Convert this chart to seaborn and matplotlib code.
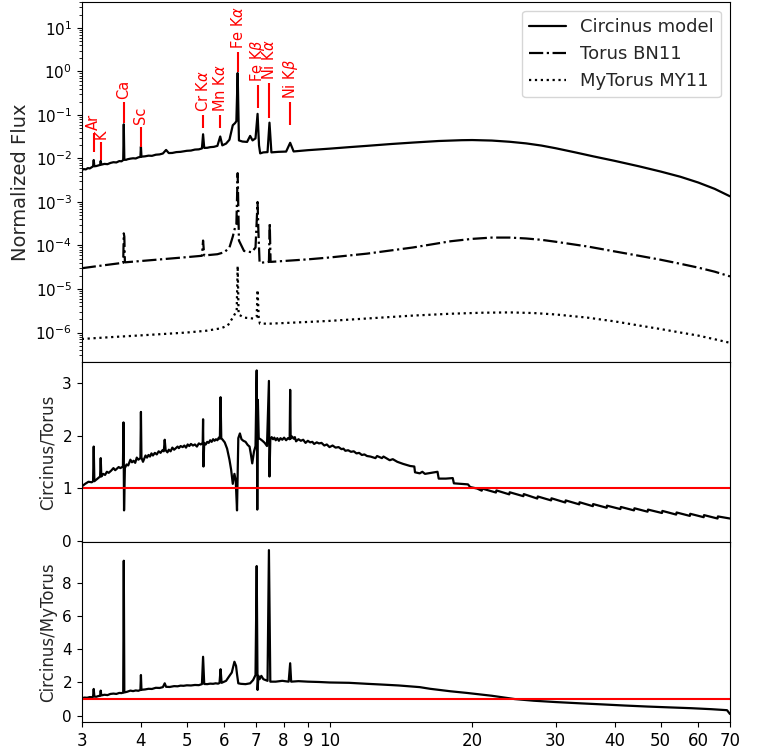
import matplotlib
matplotlib.use("Agg")
import matplotlib.pyplot as plt
import seaborn as sns
from matplotlib.ticker import NullLocator, FixedLocator, FixedFormatter, LogLocator

# ---------------- data (energy in keV) ----------------
circ_E = [3.00, 3.03, 3.06, 3.09, 3.12, 3.15, 3.17, 3.18, 3.19, 3.22,
          3.25, 3.28, 3.29, 3.30, 3.35, 3.40, 3.45, 3.50, 3.55, 3.60,
          3.64, 3.67, 3.68, 3.69, 3.72, 3.75, 3.80, 3.85, 3.90, 3.95,
          3.99, 4.00, 4.01, 4.08, 4.15, 4.22, 4.30, 4.38, 4.45, 4.52,
          4.58, 4.66, 4.75, 4.85, 5.00, 5.10, 5.20, 5.30, 5.38, 5.41,
          5.44, 5.52, 5.60, 5.70, 5.80, 5.88, 5.94, 6.05, 6.15, 6.25,
          6.32, 6.36, 6.40, 6.44, 6.55, 6.70, 6.80, 6.88, 6.98, 7.05,
          7.10, 7.14, 7.25, 7.40, 7.47, 7.54, 7.80, 8.10, 8.26, 8.40,
          9.0, 10.0, 11.0, 12.0, 13.5, 15.0, 17.0, 19.0, 20.0, 22.0,
          24.0, 26.0, 28.0, 30.0, 33.0, 36.0, 40.0, 45.0, 50.0, 55.0,
          60.0, 65.0, 70.0]
circ_F = [5.4e-3, 5.7e-3, 5.6e-3, 6.0e-3, 5.9e-3, 6.3e-3, 6.6e-3, 9.2e-3, 6.6e-3, 6.7e-3,
          6.9e-3, 7.1e-3, 8.8e-3, 7.2e-3, 7.5e-3, 7.4e-3, 7.9e-3, 8.2e-3, 8.1e-3, 8.7e-3,
          8.6e-3, 9.2e-3, 6.1e-2, 9.4e-3, 9.3e-3, 9.6e-3, 9.9e-3, 1.01e-2, 1.0e-2, 1.06e-2,
          1.09e-2, 1.87e-2, 1.10e-2, 1.12e-2, 1.16e-2, 1.15e-2, 1.22e-2, 1.24e-2, 1.30e-2, 1.57e-2,
          1.33e-2, 1.34e-2, 1.40e-2, 1.42e-2, 1.50e-2, 1.52e-2, 1.60e-2, 1.62e-2, 1.70e-2, 3.6e-2,
          1.75e-2, 1.76e-2, 1.82e-2, 1.85e-2, 1.95e-2, 3.2e-2, 2.0e-2, 2.2e-2, 2.7e-2, 5.8e-2,
          6.5e-2, 7.2e-2, 0.92, 2.6e-2, 2.45e-2, 2.4e-2, 3.3e-2, 2.6e-2, 2.9e-2, 0.106,
          2.0e-2, 1.31e-2, 1.38e-2, 1.40e-2, 6.65e-2, 1.38e-2, 1.42e-2, 1.44e-2, 2.29e-2, 1.45e-2,
          1.55e-2, 1.68e-2, 1.82e-2, 1.95e-2, 2.15e-2, 2.32e-2, 2.52e-2, 2.63e-2, 2.65e-2, 2.58e-2,
          2.42e-2, 2.22e-2, 1.98e-2, 1.72e-2, 1.38e-2, 1.12e-2, 8.8e-3, 6.6e-3, 5.0e-3, 3.8e-3,
          2.8e-3, 2.0e-3, 1.35e-3]

torus_E = [3.00, 3.20, 3.40, 3.60, 3.67, 3.68, 3.69, 3.70, 4.00, 4.50,
           5.00, 5.38, 5.41, 5.44, 5.80, 6.00, 6.15, 6.25, 6.32, 6.36,
           6.40, 6.44, 6.60, 6.85, 6.98, 7.05, 7.08, 7.12, 7.30, 7.45,
           7.48, 7.51, 8.0, 9.0, 10.0, 12.0, 15.0, 18.0, 20.0, 22.0,
           24.0, 26.0, 28.0, 30.0, 35.0, 40.0, 45.0, 50.0, 55.0, 60.0,
           65.0, 70.0]
torus_F = [3.0e-5, 3.3e-5, 3.6e-5, 3.9e-5, 4.0e-5, 1.9e-4, 1.6e-4, 4.1e-5, 4.4e-5, 4.9e-5,
           5.4e-5, 5.8e-5, 1.3e-4, 5.9e-5, 6.3e-5, 7.0e-5, 9.0e-5, 1.6e-4, 2.6e-4, 3.0e-4,
           4.6e-3, 1.3e-4, 7.5e-5, 7.0e-5, 9.0e-5, 1.0e-3, 2.0e-4, 4.0e-5, 4.1e-5, 4.2e-5,
           3.3e-4, 4.2e-5, 4.4e-5, 4.8e-5, 5.3e-5, 6.5e-5, 9.0e-5, 1.25e-4, 1.42e-4, 1.52e-4,
           1.52e-4, 1.45e-4, 1.35e-4, 1.22e-4, 9.5e-5, 7.3e-5, 5.8e-5, 4.7e-5, 3.8e-5, 3.1e-5,
           2.5e-5, 1.95e-5]

mytorus_E = [3.0, 3.5, 4.0, 4.5, 5.0, 5.5, 5.9, 6.1, 6.25, 6.33,
             6.37, 6.40, 6.43, 6.6, 6.9, 7.02, 7.05, 7.09, 7.13, 7.5,
             8.0, 9.0, 10.0, 12.0, 15.0, 18.0, 21.0, 24.0, 27.0, 30.0,
             35.0, 40.0, 45.0, 50.0, 55.0, 60.0, 65.0, 70.0]
mytorus_F = [7.1e-7, 7.9e-7, 8.6e-7, 9.3e-7, 1.0e-6, 1.1e-6, 1.25e-6, 1.45e-6, 2.2e-6, 2.8e-6,
             3.2e-6, 3.4e-5, 2.6e-6, 2.2e-6, 2.1e-6, 2.3e-6, 9.5e-6, 2.2e-6, 1.6e-6, 1.6e-6,
             1.65e-6, 1.75e-6, 1.85e-6, 2.1e-6, 2.45e-6, 2.7e-6, 2.85e-6, 2.9e-6, 2.8e-6, 2.6e-6,
             2.2e-6, 1.8e-6, 1.45e-6, 1.2e-6, 1.0e-6, 8.5e-7, 7.0e-7, 5.8e-7]

ratio_torus_E = [3.00, 3.05, 3.10, 3.15, 3.17, 3.18, 3.19, 3.24, 3.28, 3.29,
                 3.30, 3.33, 3.36, 3.39, 3.42, 3.46, 3.50, 3.53, 3.56, 3.59,
                 3.62, 3.665, 3.675, 3.685, 3.70, 3.73, 3.76, 3.80, 3.83, 3.86,
                 3.89, 3.92, 3.95, 3.99, 4.00, 4.01, 4.04, 4.06, 4.09, 4.12,
                 4.15, 4.18, 4.21, 4.24, 4.28, 4.32, 4.36, 4.40, 4.44, 4.47,
                 4.49, 4.51, 4.55, 4.58, 4.62, 4.66, 4.70, 4.74, 4.78, 4.81,
                 4.85, 4.90, 4.94, 4.98, 5.02, 5.06, 5.10, 5.15, 5.20, 5.25,
                 5.30, 5.35, 5.40, 5.41, 5.42, 5.44, 5.48, 5.52, 5.56, 5.60,
                 5.64, 5.68, 5.72, 5.76, 5.80, 5.84, 5.87, 5.89, 5.91, 5.95,
                 6.01, 6.08, 6.15, 6.20, 6.25, 6.30, 6.34, 6.38, 6.42, 6.47,
                 6.52, 6.58, 6.65, 6.72, 6.78, 6.82, 6.87, 6.93, 6.98, 7.02,
                 7.04, 7.06, 7.09, 7.15, 7.22, 7.30, 7.38, 7.45, 7.47, 7.50,
                 7.55, 7.60, 7.65, 7.70, 7.76, 7.82, 7.88, 7.95, 8.02, 8.10,
                 8.17, 8.24, 8.26, 8.28, 8.34, 8.40, 8.45, 8.50, 8.60, 8.70,
                 8.80, 8.90, 9.00, 9.10, 9.20, 9.28, 9.40, 9.50, 9.62, 9.75,
                 9.87, 10.0, 10.15, 10.3, 10.45, 10.6, 10.7, 10.8, 10.95, 11.1,
                 11.25, 11.4, 11.55, 11.7, 11.85, 12.0, 12.2, 12.5, 12.6, 12.9,
                 13.0, 13.4, 13.6, 13.9, 14.2, 14.3, 14.8, 15.1, 15.15, 15.5,
                 15.7, 15.9, 16.4, 16.9, 17.0, 17.6, 18.2, 18.3, 19.0, 19.6,
                 19.8, 20.5, 20.95, 21.0, 22.45, 22.5, 23.95, 24.0, 25.65, 25.7,
                 27.45, 27.5, 29.35, 29.4, 31.45, 31.5, 33.65, 33.7, 35.95, 36.0,
                 38.45, 38.5, 41.1, 41.2, 43.9, 44.0, 46.9, 47.0, 50.3, 50.4,
                 53.9, 54.0, 57.6, 57.7, 61.6, 61.7, 65.9, 66.0, 70.0]
ratio_torus_V = [1.03, 1.08, 1.12, 1.11, 1.13, 1.79, 1.13, 1.18, 1.22, 1.57,
                 1.22, 1.27, 1.25, 1.31, 1.29, 1.33, 1.38, 1.34, 1.37, 1.40,
                 1.38, 1.41, 2.25, 0.575, 1.38, 1.45, 1.43, 1.54, 1.49, 1.52,
                 1.48, 1.58, 1.54, 1.57, 2.45, 1.58, 1.50, 1.55, 1.62, 1.58,
                 1.63, 1.60, 1.66, 1.62, 1.67, 1.64, 1.70, 1.67, 1.72, 1.70,
                 1.92, 1.72, 1.68, 1.73, 1.70, 1.77, 1.73, 1.76, 1.79, 1.76,
                 1.80, 1.78, 1.81, 1.77, 1.83, 1.80, 1.84, 1.81, 1.83, 1.79,
                 1.85, 1.83, 1.86, 2.31, 1.41, 1.86, 1.83, 1.88, 1.86, 1.91,
                 1.88, 1.93, 1.90, 1.93, 1.91, 1.96, 1.94, 2.73, 1.95, 1.92,
                 1.87, 1.75, 1.54, 1.35, 1.08, 1.27, 1.15, 0.575, 1.95, 2.04,
                 1.93, 1.90, 1.88, 1.82, 1.79, 1.66, 1.47, 1.70, 1.80, 3.24,
                 0.59, 2.68, 1.95, 1.93, 1.90, 1.86, 1.80, 3.04, 1.22, 1.92,
                 1.97, 1.93, 1.96, 1.91, 1.95, 1.90, 1.95, 1.92, 1.96, 1.91,
                 1.95, 1.93, 2.87, 1.94, 1.98, 1.94, 1.97, 1.89, 1.93, 1.90,
                 1.92, 1.86, 1.90, 1.87, 1.88, 1.84, 1.87, 1.85, 1.86, 1.81,
                 1.83, 1.78, 1.81, 1.77, 1.78, 1.74, 1.75, 1.71, 1.72, 1.69,
                 1.70, 1.66, 1.67, 1.63, 1.64, 1.61, 1.60, 1.57, 1.61, 1.57,
                 1.60, 1.53, 1.55, 1.50, 1.47, 1.46, 1.42, 1.41, 1.30, 1.28,
                 1.31, 1.27, 1.29, 1.31, 1.18, 1.18, 1.19, 1.09, 1.08, 1.07,
                 1.02, 0.99, 0.95, 0.99, 0.915, 0.955, 0.88, 0.92, 0.845, 0.885,
                 0.80, 0.84, 0.765, 0.805, 0.725, 0.765, 0.69, 0.73, 0.655, 0.695,
                 0.625, 0.665, 0.60, 0.64, 0.575, 0.615, 0.55, 0.59, 0.525, 0.565,
                 0.495, 0.535, 0.47, 0.51, 0.445, 0.485, 0.42, 0.46, 0.42]

ratio_my_E = [3.00, 3.04, 3.08, 3.12, 3.15, 3.17, 3.18, 3.19, 3.22, 3.25,
              3.28, 3.29, 3.30, 3.35, 3.40, 3.45, 3.50, 3.55, 3.60, 3.64,
              3.67, 3.68, 3.69, 3.74, 3.80, 3.85, 3.90, 3.95, 3.99, 4.00,
              4.01, 4.08, 4.15, 4.22, 4.30, 4.38, 4.45, 4.49, 4.52, 4.60,
              4.70, 4.78, 4.85, 4.92, 5.00, 5.10, 5.20, 5.30, 5.38, 5.41,
              5.44, 5.52, 5.60, 5.68, 5.75, 5.82, 5.86, 5.89, 5.92, 6.05,
              6.15, 6.22, 6.30, 6.35, 6.38, 6.42, 6.50, 6.65, 6.80, 6.90,
              6.98, 7.02, 7.05, 7.08, 7.12, 7.18, 7.25, 7.40, 7.45, 7.50,
              7.70, 7.95, 8.20, 8.26, 8.30, 8.60, 9.00, 9.50, 10.0, 11.0,
              12.0, 12.8, 14.0, 15.5, 16.3, 18.0, 19.5, 22.0, 24.6, 27.0,
              30.0, 34.0, 37.6, 42.0, 46.8, 52.0, 58.0, 64.0, 69.0, 70.0]
ratio_my_V = [1.05, 1.09, 1.08, 1.12, 1.11, 1.15, 1.61, 1.15, 1.14, 1.18,
              1.20, 1.51, 1.22, 1.26, 1.24, 1.31, 1.33, 1.31, 1.37, 1.36,
              1.39, 9.34, 1.40, 1.44, 1.51, 1.48, 1.52, 1.50, 1.55, 2.45,
              1.56, 1.58, 1.62, 1.61, 1.68, 1.67, 1.72, 1.95, 1.74, 1.73,
              1.78, 1.77, 1.81, 1.80, 1.83, 1.82, 1.85, 1.84, 1.90, 3.55,
              1.91, 1.90, 1.93, 1.92, 1.95, 1.93, 1.97, 2.80, 1.98, 2.10,
              2.40, 2.60, 3.25, 3.00, 2.50, 1.95, 1.92, 1.90, 1.95, 2.15,
              2.45, 9.02, 1.55, 2.40, 2.20, 2.40, 2.20, 2.10, 9.98, 2.05,
              2.05, 2.10, 2.05, 3.16, 2.05, 2.08, 2.05, 2.03, 2.00, 1.98,
              1.92, 1.88, 1.82, 1.72, 1.62, 1.47, 1.37, 1.20, 1.00, 0.90,
              0.82, 0.74, 0.68, 0.61, 0.55, 0.50, 0.45, 0.39, 0.33, 0.10]

# emission-line labels
line_names = ["Ar", "K", "Ca", "Sc", r"Cr K$\alpha$", r"Mn K$\alpha$",
              r"Fe K$\alpha$", r"Fe K$\beta$", r"Ni K$\alpha$", r"Ni K$\beta$"]
line_E = [3.18, 3.29, 3.68, 4.00, 5.41, 5.88, 6.40, 7.05, 7.47, 8.26]
line_lo = [1.40e-2, 9.2e-3, 6.6e-2, 1.83e-2, 5.0e-2, 5.0e-2, 0.98, 0.145, 8.6e-2, 5.9e-2]
line_hi = [3.85e-2, 2.4e-2, 0.20, 5.3e-2, 0.10, 0.10, 2.85, 0.49, 0.55, 0.20]

xticks = [3, 4, 5, 6, 7, 8, 9, 10, 20, 30, 40, 50, 60, 70]
xticklabels = [str(t) for t in xticks]

# ---------------- figure ----------------
sns.set_style("ticks")
plt.rcParams["font.family"] = ["DejaVu Sans"]
plt.rcParams["axes.edgecolor"] = "black"
plt.rcParams["xtick.color"] = "black"
plt.rcParams["ytick.color"] = "black"

fig = plt.figure(figsize=(7.71, 7.52), dpi=100)
gs = fig.add_gridspec(3, 1, height_ratios=[2, 1, 1], hspace=0,
                      left=0.106, right=0.9468, top=0.9977, bottom=0.0395)
ax1 = fig.add_subplot(gs[0])
ax2 = fig.add_subplot(gs[1], sharex=ax1)
ax3 = fig.add_subplot(gs[2], sharex=ax1)

lw = 1.6
sns.lineplot(x=circ_E, y=circ_F, ax=ax1, color="black", lw=lw, linestyle="-",
             label="Circinus model")
sns.lineplot(x=torus_E, y=torus_F, ax=ax1, color="black", lw=lw, linestyle="-.",
             label="Torus BN11")
sns.lineplot(x=mytorus_E, y=mytorus_F, ax=ax1, color="black", lw=lw, linestyle=":",
             label="MyTorus MY11")

ax1.set_yscale("log")
ax1.set_xscale("log")
ax1.set_ylim(2.1e-7, 40)
ax1.yaxis.set_major_locator(LogLocator(base=10, numticks=20))
ax1.yaxis.set_minor_locator(LogLocator(base=10, subs=range(2, 10), numticks=200))
ax1.set_ylabel("Normalized Flux", fontsize=14)
ax1.legend(loc="upper right", fontsize=13, frameon=True)

ax1.vlines(line_E, line_lo, line_hi, color="red", lw=1.5)
for name, e, hi in zip(line_names, line_E, line_hi):
    ax1.annotate(name, xy=(e, hi), xytext=(0, 2), textcoords="offset points",
                 rotation=90, ha="center", va="bottom", color="red", fontsize=10.5)

sns.lineplot(x=ratio_torus_E, y=ratio_torus_V, ax=ax2, color="black", lw=lw)
ax2.axhline(1, color="red", lw=1.5)
ax2.set_ylim(-0.03, 3.4)
ax2.set_yticks([0, 1, 2, 3])
ax2.set_ylabel("Circinus/Torus", fontsize=12)

sns.lineplot(x=ratio_my_E, y=ratio_my_V, ax=ax3, color="black", lw=lw)
ax3.axhline(1, color="red", lw=1.5)
ax3.set_ylim(-0.4, 10.46)
ax3.set_yticks([0, 2, 4, 6, 8])
ax3.set_ylabel("Circinus/MyTorus", fontsize=12)

ax3.set_xlim(3, 70)
ax3.xaxis.set_major_locator(FixedLocator(xticks))
ax3.xaxis.set_major_formatter(FixedFormatter(xticklabels))
ax3.xaxis.set_minor_locator(NullLocator())
for ax in (ax1, ax2):
    ax.tick_params(axis="x", labelbottom=False)
for ax in (ax1, ax2, ax3):
    ax.tick_params(axis="y", labelsize=11)
    ax.set_xlabel("")
ax3.tick_params(axis="x", labelsize=12)

fig.savefig("out.png", dpi=100)
